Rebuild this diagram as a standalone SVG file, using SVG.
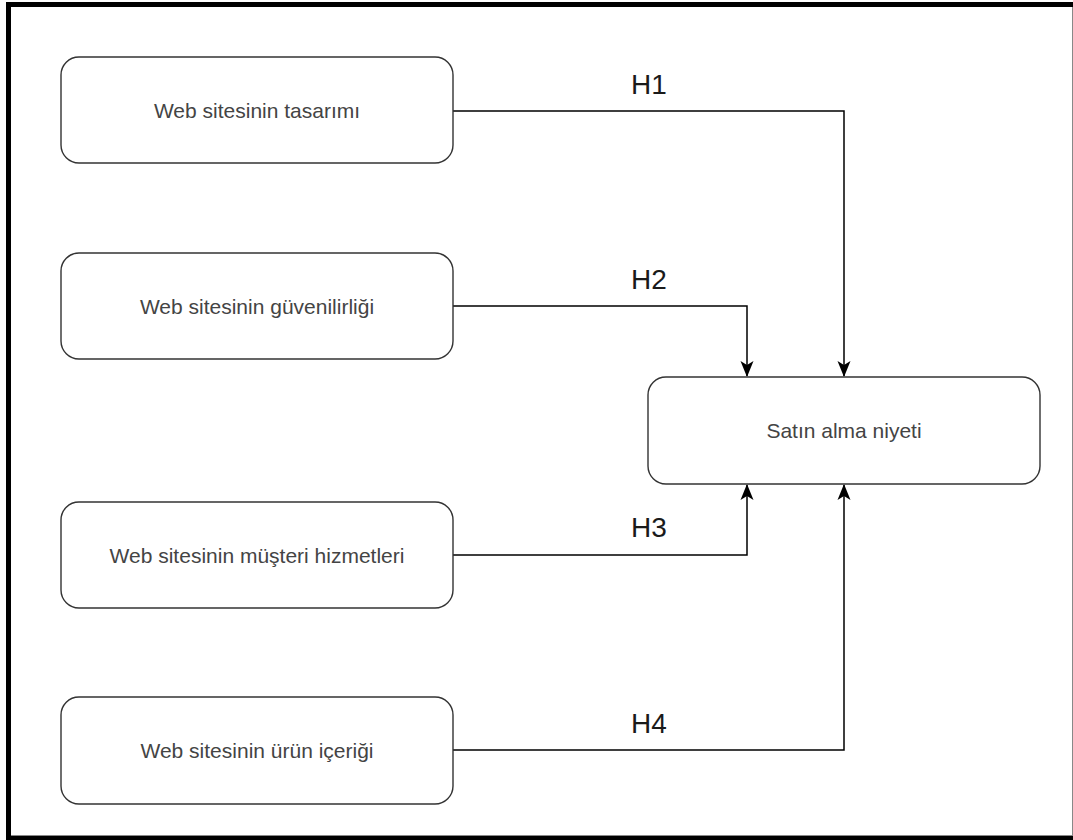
<svg xmlns="http://www.w3.org/2000/svg" width="1073" height="840" viewBox="0 0 1073 840">
<style>
.node rect{fill:#fff;stroke:#333;stroke-width:1.4}
.node text{font-family:"Liberation Sans",Arial,sans-serif;font-size:21px;fill:#444;text-anchor:middle;dominant-baseline:central}
.edge{fill:none;stroke:#000;stroke-width:1.5}
.lbl{font-family:"Liberation Sans",Arial,sans-serif;font-size:28px;fill:#1a1a1a;text-anchor:middle}
</style>
<defs>
<marker id="arr" viewBox="0 0 16 14" refX="15" refY="7" markerWidth="16" markerHeight="14" markerUnits="userSpaceOnUse" orient="auto">
<path d="M0,0.5 L16,7 L0,13.5 L4,7 Z" fill="#000"/>
</marker>
</defs>
<rect x="6" y="2" width="1067" height="838" fill="#000"/>
<rect x="11" y="7" width="1061" height="829" fill="#fff"/>
<line x1="1072.5" y1="7" x2="1072.5" y2="836" stroke="#888" stroke-width="1"/>
<line x1="11" y1="835.5" x2="1072" y2="835.5" stroke="#888" stroke-width="1"/>
<g id="connectors">
<path class="edge" d="M453,111 H844 V376" marker-end="url(#arr)"/>
<path class="edge" d="M453,306 H747 V376" marker-end="url(#arr)"/>
<path class="edge" d="M453,555 H747 V485" marker-end="url(#arr)"/>
<path class="edge" d="M453,750 H844 V485" marker-end="url(#arr)"/>
<text class="lbl" x="649" y="94">H1</text>
<text class="lbl" x="649" y="289">H2</text>
<text class="lbl" x="649" y="537">H3</text>
<text class="lbl" x="649" y="733">H4</text>
</g>
<g id="n1" class="node"><rect x="61" y="57" width="392" height="106" rx="18"/><text x="257" y="110">Web sitesinin tasarımı</text></g>
<g id="n2" class="node"><rect x="61" y="253" width="392" height="106" rx="18"/><text x="257" y="306">Web sitesinin güvenilirliği</text></g>
<g id="n3" class="node"><rect x="61" y="502" width="392" height="106" rx="18"/><text x="257" y="555">Web sitesinin müşteri hizmetleri</text></g>
<g id="n4" class="node"><rect x="61" y="697" width="392" height="107" rx="18"/><text x="257" y="750">Web sitesinin ürün içeriği</text></g>
<g id="n5" class="node"><rect x="648" y="377" width="392" height="107" rx="18"/><text x="844" y="430">Satın alma niyeti</text></g>
</svg>
